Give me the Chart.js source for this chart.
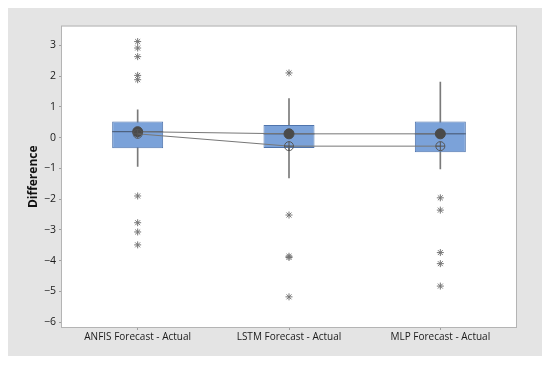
<!DOCTYPE html>
<html>
<head>
<meta charset="utf-8">
<script src="https://cdn.jsdelivr.net/npm/chart.js@4"></script>
<style>
  body { margin: 0; background: #fff; }
  #box { width: 550px; height: 367px; }
</style>
</head>
<body>
<div id="box"><canvas id="myChart" width="550" height="367"></canvas></div>
<script>
/* data */
const categories = ['ANFIS Forecast - Actual', 'LSTM Forecast - Actual', 'MLP Forecast - Actual'];
const q1 = [-0.35, -0.34, -0.48];
const q3 = [0.52, 0.41, 0.52];
const medians = [0.19, 0.12, 0.12];
const means = [0.12, -0.28, -0.28];
const whiskerLow = [-0.94, -1.31, -1.02];
const whiskerHigh = [0.90, 1.27, 1.80];
const outliersAnfis = [3.12, 2.91, 2.63, 2.02, 1.88, -1.90, -2.77, -3.07, -3.49];
const outliersLstm = [2.10, -2.52, -3.86, -3.90, -5.18];
const outliersMlp = [-1.96, -2.36, -3.74, -4.10, -4.83];
const yTicks = [-6, -5, -4, -3, -2, -1, 0, 1, 2, 3];

const outlierPoints = [];
outliersAnfis.forEach(v => outlierPoints.push({x: categories[0], y: v}));
outliersLstm.forEach(v => outlierPoints.push({x: categories[1], y: v}));
outliersMlp.forEach(v => outlierPoints.push({x: categories[2], y: v}));

/* grey panel + white plot area with frame */
const panel = {
  id: 'panel',
  beforeDraw(chart) {
    const c = chart.ctx, a = chart.chartArea;
    c.save();
    c.fillStyle = '#ffffff';
    c.fillRect(0, 0, chart.width, chart.height);
    c.fillStyle = '#e4e4e4';
    c.fillRect(8, 8, chart.width - 16, chart.height - 19);
    c.fillStyle = '#ffffff';
    c.fillRect(a.left, a.top, a.right - a.left, a.bottom - a.top);
    c.restore();
  },
  afterDraw(chart) {
    const c = chart.ctx, a = chart.chartArea;
    c.save();
    c.strokeStyle = '#b4b4b4';
    c.lineWidth = 1;
    c.strokeRect(a.left - 0.5, a.top - 0.5, a.right - a.left + 1, a.bottom - a.top + 1);
    c.restore();
  }
};

const ctx = document.getElementById('myChart').getContext('2d');
const myChart = new Chart(ctx, {
  type: 'bar',
  data: {
    labels: categories,
    datasets: [
      {
        label: 'whisker',
        data: categories.map((c, i) => [whiskerLow[i], whiskerHigh[i]]),
        backgroundColor: '#7a7a7a',
        barThickness: 1,
        grouped: false,
        order: 9
      },
      {
        label: 'box',
        data: categories.map((c, i) => [q1[i], q3[i]]),
        backgroundColor: '#7ba2d9',
        borderColor: '#4f74ac',
        borderWidth: 1,
        borderSkipped: false,
        barPercentage: 0.337,
        categoryPercentage: 1,
        grouped: false,
        order: 8
      },
      {
        type: 'line',
        label: 'median',
        data: medians,
        showLine: false,
        pointStyle: 'line',
        pointRadius: 25.5,
        pointBorderColor: '#44536b',
        pointBorderWidth: 1,
        order: 7
      },
      {
        type: 'line',
        label: 'median connect',
        data: medians,
        borderColor: '#777777',
        borderWidth: 1,
        pointRadius: 5,
        pointBackgroundColor: '#4a4a4a',
        pointBorderColor: '#4a4a4a',
        order: 5
      },
      {
        type: 'line',
        label: 'mean connect',
        data: means,
        borderColor: '#777777',
        borderWidth: 1,
        pointRadius: 4.5,
        pointBackgroundColor: 'rgba(0,0,0,0)',
        pointBorderColor: '#555555',
        pointBorderWidth: 1,
        order: 4
      },
      {
        type: 'line',
        label: 'mean cross',
        data: means,
        showLine: false,
        pointStyle: 'cross',
        pointRadius: 4.5,
        pointBorderColor: '#555555',
        pointBorderWidth: 1,
        order: 3
      },
      {
        type: 'line',
        label: 'outliers',
        data: outlierPoints,
        showLine: false,
        pointStyle: 'star',
        pointRadius: 3.5,
        pointBorderColor: '#767676',
        pointBorderWidth: 1,
        order: 2
      }
    ]
  },
  options: {
    responsive: false,
    animation: false,
    layout: { padding: { top: 24, right: 34, left: 0, bottom: 0 } },
    plugins: {
      legend: { display: false },
      tooltip: { enabled: false }
    },
    scales: {
      x: {
        offset: true,
        grid: { offset: false, drawOnChartArea: false, tickLength: 3, color: '#a0a0a0' },
        border: { display: false },
        ticks: { color: '#1a1a1a', padding: 1, font: { family: 'Open Sans', size: 10 } },
        afterFit: s => { s.height = 40; }
      },
      y: {
        min: -6.16,
        max: 3.61,
        afterBuildTicks: s => { s.ticks = yTicks.map(v => ({value: v})); },
        grid: { drawOnChartArea: false, tickLength: 3, color: '#a0a0a0' },
        border: { display: false },
        ticks: {
          color: '#1a1a1a',
          padding: 3,
          font: { family: 'Open Sans', size: 10.5 },
          callback: v => v < 0 ? '\u2212' + Math.abs(v) : String(v)
        },
        title: {
          display: true,
          text: 'Difference',
          color: '#111111',
          padding: { top: 26, bottom: 2 },
          font: { family: 'Open Sans', size: 12, weight: 'bold' }
        },
        afterFit: s => { s.width = 62; }
      }
    }
  },
  plugins: [panel]
});
</script>
</body>
</html>
